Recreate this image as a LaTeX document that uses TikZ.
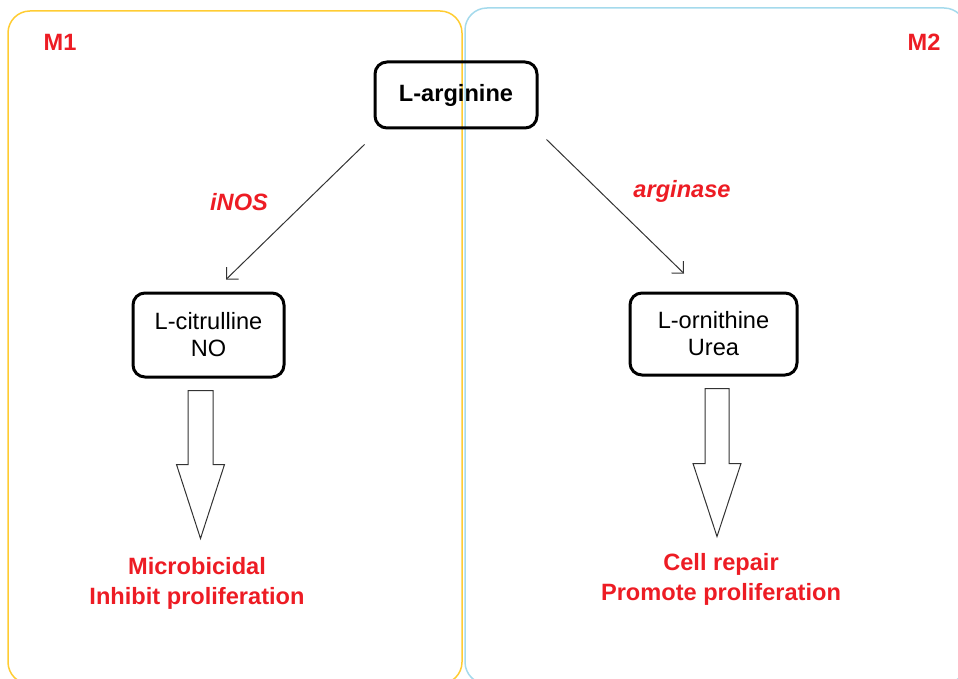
\documentclass[tikz,border=0pt]{standalone}
\usepackage{fontspec}
\setmainfont{Liberation Sans}
\usepackage{tikz,xcolor}
\usetikzlibrary{calc}
\usetikzlibrary{positioning}
\usetikzlibrary{arrows.meta}

\definecolor{mred}{RGB}{237,28,36}
\definecolor{myellow}{RGB}{255,204,51}
\definecolor{mblue}{RGB}{165,218,236}

\begin{document}
\begin{tikzpicture}[x=0.5pt,y=-0.5pt,
    font=\fontsize{11.8}{13.5}\selectfont,
    caixa/.style={draw=black, line width=1.5pt, rounded corners=6pt, align=center, inner sep=0pt},
    rotulo/.style={text=mred, font=\fontsize{11.8}{15}\selectfont\bfseries, align=center},
    enzima/.style={text=mred, font=\fontsize{11.8}{14}\selectfont\bfseries\itshape},
    seta/.style={draw=black!80, line width=0.5pt, -{Straight Barb[angle=90:6pt]}},
    setagrossa/.style={draw=black!80, line width=0.5pt, fill=white, line join=miter}]
        \useasboundingbox (0,0) rectangle (958,679);
        \clip (0,0) rectangle (958,679);

        % Quadros M1 e M2
        \draw[myellow, line width=0.75pt, rounded corners=11pt] (8,11) rectangle (462,684);
        \draw[mblue, line width=0.75pt, rounded corners=11pt] (465,8) rectangle (966,684);
        \node[rotulo] (m1) at (60,42) {M1};
        \node[rotulo] (m2) at (924,42) {M2};

        % Caixas
        \node[caixa, minimum width=81pt, minimum height=33pt, font=\fontsize{11.8}{13.5}\selectfont\bfseries] (arg) at (456,95) {L-arginine};
        \node[caixa, minimum width=75.5pt, minimum height=42pt] (cit) at (208.5,335) {L-citrulline\\NO};
        \node[caixa, minimum width=83.5pt, minimum height=41pt] (orn) at (713.5,334) {L-ornithine\\Urea};

        % Enzimas
        \draw[seta] ($(arg.south west)+(-9,15)$) -- ($(cit.north)+(17.5,-12)$);
        \draw[seta] ($(arg.south east)+(8,10)$) -- ($(orn.north)+(-29.5,-18)$);
        \node[enzima] (inos) at (239,202) {iNOS};
        \node[enzima] (argi) at (682,191) {arginase};

        % Efeitos
        \node[rotulo] (mic) at (197,583) {Microbicidal\\Inhibit proliferation};
        \node[rotulo] (rep) at (721,579) {Cell repair\\Promote proliferation};

        % Setas grossas
        \draw[setagrossa] ($(cit.south)+(-20.5,12)$) -- ++(25,0) -- ++(0,74) -- ++(11.5,0)
            -- ++(-24,74) -- ++(-24,-74) -- ++(11.5,0) -- cycle;
        \draw[setagrossa] ($(orn.south)+(-8.5,12)$) -- ++(24,0) -- ++(0,75) -- ++(12,0)
            -- ++(-24,73) -- ++(-24,-73) -- ++(12,0) -- cycle;
\end{tikzpicture}
\end{document}
